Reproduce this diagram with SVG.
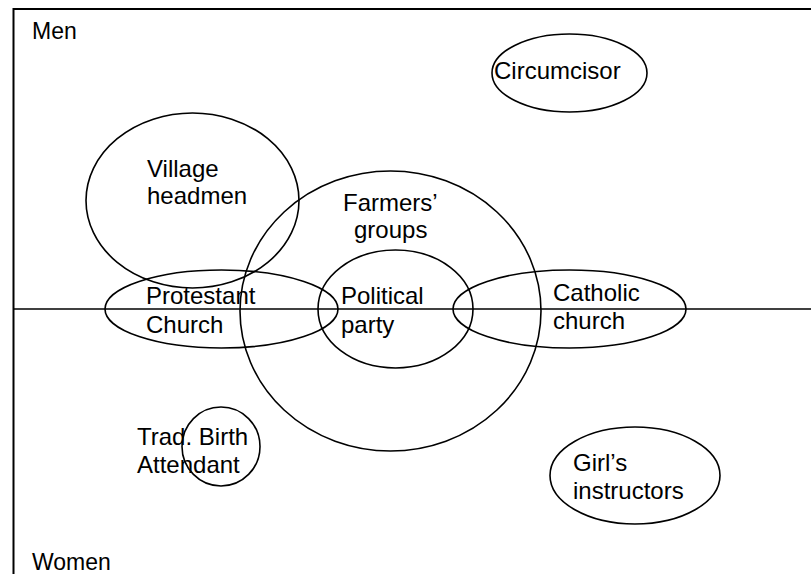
<svg xmlns="http://www.w3.org/2000/svg" width="811" height="574" viewBox="0 0 811 574">
<style>
.sh{fill:none;stroke:#000;stroke-width:1.6}
.ax{fill:none;stroke:#000;stroke-width:2}
text{font-family:"Liberation Sans",Arial,sans-serif;font-size:24px;fill:#000}
text.ax-l{font-size:23px}
</style>
<rect width="811" height="574" fill="#fff"/>
<g id="frame">
<path class="ax" d="M13.5,574 V9 H811"/>
<line class="sh" x1="14" y1="309" x2="811" y2="309"/>
<text class="ax-l" x="32" y="39">Men</text>
<text class="ax-l" x="32" y="570">Women</text>
</g>
<g id="circumcisor">
<ellipse class="sh" cx="569.5" cy="73" rx="77.5" ry="39"/>
<text x="494" y="79">Circumcisor</text>
</g>
<g id="village-headmen">
<ellipse class="sh" cx="192.5" cy="200.5" rx="106.5" ry="87.5"/>
<text x="147" y="177">Village</text>
<text x="147" y="204">headmen</text>
</g>
<g id="farmers-groups">
<ellipse class="sh" cx="390.5" cy="311" rx="150.5" ry="140"/>
<text x="343" y="211">Farmers’</text>
<text x="354" y="238">groups</text>
</g>
<g id="protestant-church">
<ellipse class="sh" cx="221.5" cy="309" rx="116.5" ry="39"/>
<text x="146" y="304">Protestant</text>
<text x="146" y="333">Church</text>
</g>
<g id="political-party">
<ellipse class="sh" cx="395.5" cy="309" rx="77.5" ry="59"/>
<text x="341" y="304">Political</text>
<text x="341" y="333">party</text>
</g>
<g id="catholic-church">
<ellipse class="sh" cx="569.5" cy="309" rx="116.5" ry="39"/>
<text x="553" y="301">Catholic</text>
<text x="553" y="329">church</text>
</g>
<g id="trad-birth-attendant">
<ellipse class="sh" cx="221" cy="446.5" rx="39" ry="39.5"/>
<text x="137" y="445">Trad. Birth</text>
<text x="137" y="473">Attendant</text>
</g>
<g id="girls-instructors">
<ellipse class="sh" cx="635" cy="475.5" rx="85" ry="48.5"/>
<text x="573" y="471">Girl’s</text>
<text x="573" y="499">instructors</text>
</g>
</svg>
